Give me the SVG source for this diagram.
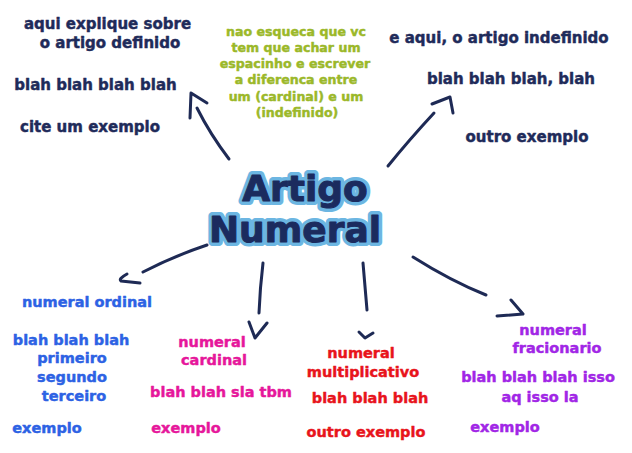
<svg xmlns="http://www.w3.org/2000/svg" width="632" height="453" viewBox="0 0 632 453">
<style>
text{font-family:"DejaVu Sans","Verdana",sans-serif;font-weight:bold;text-anchor:middle;stroke-width:0.45px;stroke-linejoin:round}
.navy{fill:#1f2b5a;stroke:#1f2b5a;font-size:15px}
.green{fill:#9bb829;stroke:#9bb829;font-size:12.6px}
.blue{fill:#2d62e4;stroke:#2d62e4;font-size:14.5px}
.pink{fill:#e6179b;stroke:#e6179b;font-size:14.5px}
.red{fill:#e8141c;stroke:#e8141c;font-size:14.5px}
.purple{fill:#a126e6;stroke:#a126e6;font-size:14.5px}
.title{font-size:36px}
.halo{fill:#6cb6e2;stroke:#6cb6e2;stroke-width:8px}
.core{fill:#1b2b5e;stroke:#1b2b5e;stroke-width:1px}
.arrow{fill:none;stroke:#1e2a55;stroke-width:3;stroke-linecap:round;stroke-linejoin:round}
</style>
<g id="connectors">
<path class="arrow" d="M229,159 Q210,134 197,108"/>
<path class="arrow" d="M190,118 L191,93 L207,103"/>
<path class="arrow" d="M388,166 Q409,140 434,113"/>
<path class="arrow" d="M432,104 L450,97 L453,113"/>
<path class="arrow" d="M207,245 Q174,256 143,272"/>
<path class="arrow" d="M127,274 Q118,279 121,281 L140,283"/>
<path class="arrow" d="M263,263 Q260,288 259,313"/>
<path class="arrow" d="M249,322 L255,338 L267,323"/>
<path class="arrow" d="M363,263 Q365,287 367,310"/>
<path class="arrow" d="M359,332 L365,338 L373,333"/>
<path class="arrow" d="M413,257 Q451,281 486,295"/>
<path class="arrow" d="M511,300 L523,314 L497,316"/>
</g>
<g id="center">
<text class="title halo" x="305" y="201">Artigo</text>
<text class="title halo" x="295" y="242">Numeral</text>
<text class="title core" x="305" y="201">Artigo</text>
<text class="title core" x="295" y="242">Numeral</text>
</g>
<g id="definido">
<text class="navy" x="107.5" y="29">aqui explique sobre</text>
<text class="navy" x="110" y="48">o artigo definido</text>
<text class="navy" x="95.5" y="90">blah blah blah blah</text>
<text class="navy" x="90" y="132">cite um exemplo</text>
</g>
<g id="nota">
<text class="green" x="296" y="36">nao esqueca que vc</text>
<text class="green" x="296" y="52">tem que achar um</text>
<text class="green" x="295" y="68">espacinho e escrever</text>
<text class="green" x="296" y="84">a diferenca entre</text>
<text class="green" x="296" y="101">um (cardinal) e um</text>
<text class="green" x="297" y="117">(indefinido)</text>
</g>
<g id="indefinido">
<text class="navy" x="499" y="43">e aqui, o artigo indefinido</text>
<text class="navy" x="511" y="84">blah blah blah, blah</text>
<text class="navy" x="527" y="142">outro exemplo</text>
</g>
<g id="ordinal">
<text class="blue" x="87" y="307">numeral ordinal</text>
<text class="blue" x="71" y="345">blah blah blah</text>
<text class="blue" x="72" y="363">primeiro</text>
<text class="blue" x="72" y="382">segundo</text>
<text class="blue" x="74" y="401">terceiro</text>
<text class="blue" x="47" y="433">exemplo</text>
</g>
<g id="cardinal">
<text class="pink" x="212" y="347">numeral</text>
<text class="pink" x="214" y="365">cardinal</text>
<text class="pink" x="221" y="397">blah blah sla tbm</text>
<text class="pink" x="186" y="433">exemplo</text>
</g>
<g id="multiplicativo">
<text class="red" x="361" y="358">numeral</text>
<text class="red" x="363" y="377">multiplicativo</text>
<text class="red" x="370" y="403">blah blah blah</text>
<text class="red" x="366" y="437">outro exemplo</text>
</g>
<g id="fracionario">
<text class="purple" x="553" y="335">numeral</text>
<text class="purple" x="557" y="353">fracionario</text>
<text class="purple" x="538" y="382">blah blah blah isso</text>
<text class="purple" x="540" y="402">aq isso la</text>
<text class="purple" x="505" y="432">exemplo</text>
</g>
</svg>
